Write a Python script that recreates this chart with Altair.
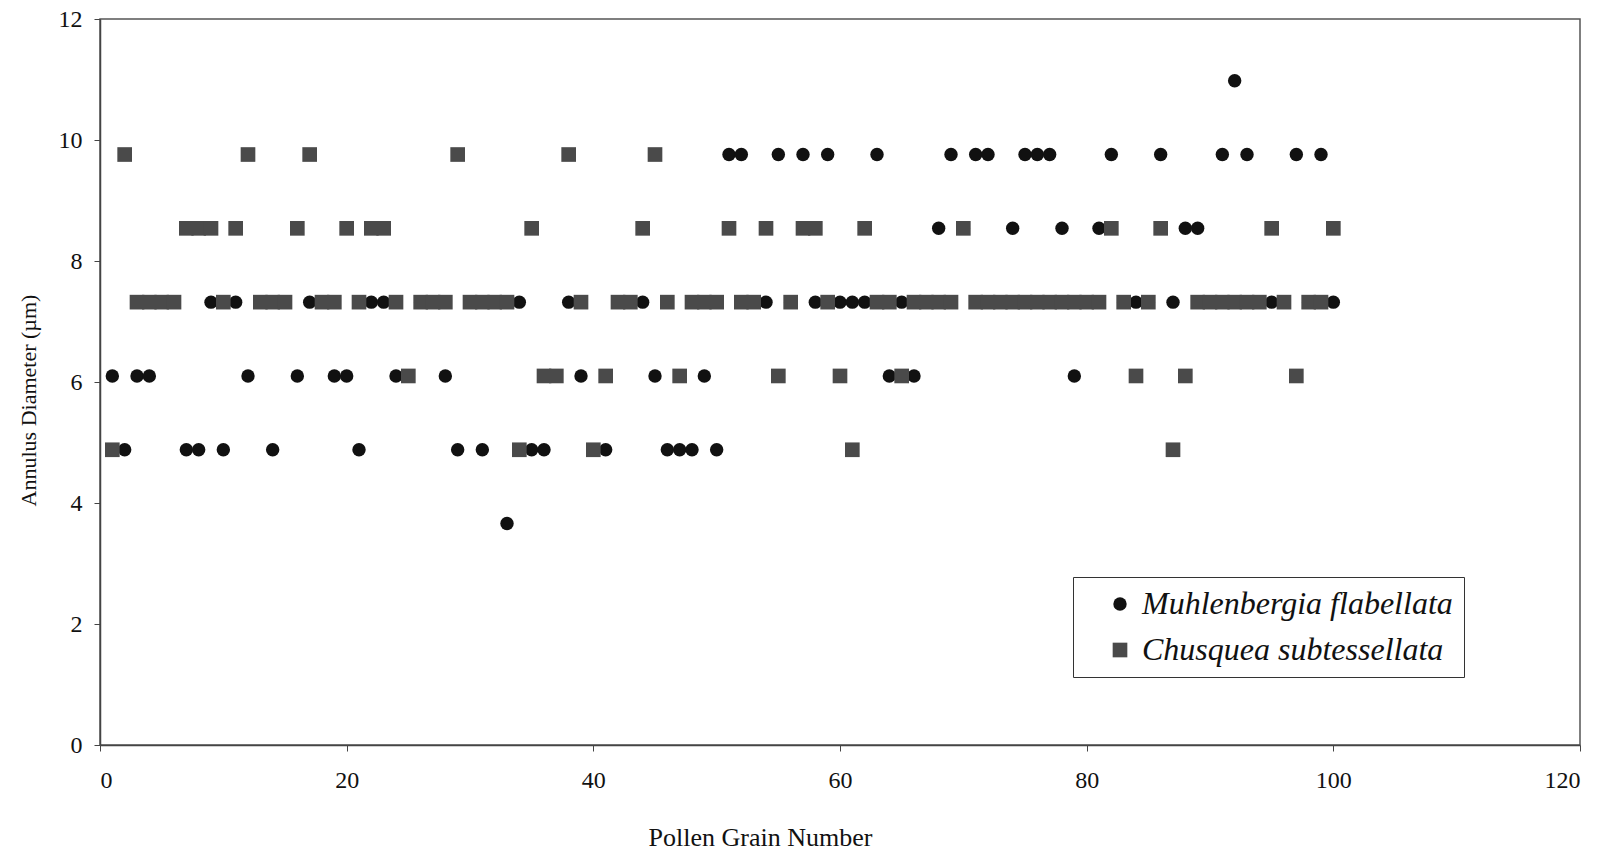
import altair as alt
import pandas as pd

# Pollen grain number (1-100) for each species
grain = list(range(1, 101))

# Annulus diameter (µm) per grain, in micrometer steps of 1.22 µm
muhlenbergia = [
    6.10, 4.88, 6.10, 6.10, 7.32, 7.32, 4.88, 4.88, 7.32, 4.88,
    7.32, 6.10, 7.32, 4.88, 7.32, 6.10, 7.32, 7.32, 6.10, 6.10,
    4.88, 7.32, 7.32, 6.10, 6.10, 7.32, 7.32, 6.10, 4.88, 7.32,
    4.88, 7.32, 3.66, 7.32, 4.88, 4.88, 6.10, 7.32, 6.10, 4.88,
    4.88, 7.32, 7.32, 7.32, 6.10, 4.88, 4.88, 4.88, 6.10, 4.88,
    9.76, 9.76, 7.32, 7.32, 9.76, 7.32, 9.76, 7.32, 9.76, 7.32,
    7.32, 7.32, 9.76, 6.10, 7.32, 6.10, 7.32, 8.54, 9.76, 8.54,
    9.76, 9.76, 7.32, 8.54, 9.76, 9.76, 9.76, 8.54, 6.10, 7.32,
    8.54, 9.76, 7.32, 7.32, 7.32, 9.76, 7.32, 8.54, 8.54, 7.32,
    9.76, 10.98, 9.76, 7.32, 7.32, 7.32, 9.76, 7.32, 9.76, 7.32,
]

chusquea = [
    4.88, 9.76, 7.32, 7.32, 7.32, 7.32, 8.54, 8.54, 8.54, 7.32,
    8.54, 9.76, 7.32, 7.32, 7.32, 8.54, 9.76, 7.32, 7.32, 8.54,
    7.32, 8.54, 8.54, 7.32, 6.10, 7.32, 7.32, 7.32, 9.76, 7.32,
    7.32, 7.32, 7.32, 4.88, 8.54, 6.10, 6.10, 9.76, 7.32, 4.88,
    6.10, 7.32, 7.32, 8.54, 9.76, 7.32, 6.10, 7.32, 7.32, 7.32,
    8.54, 7.32, 7.32, 8.54, 6.10, 7.32, 8.54, 8.54, 7.32, 6.10,
    4.88, 8.54, 7.32, 7.32, 6.10, 7.32, 7.32, 7.32, 7.32, 8.54,
    7.32, 7.32, 7.32, 7.32, 7.32, 7.32, 7.32, 7.32, 7.32, 7.32,
    7.32, 8.54, 7.32, 6.10, 7.32, 8.54, 4.88, 6.10, 7.32, 7.32,
    7.32, 7.32, 7.32, 7.32, 8.54, 7.32, 6.10, 7.32, 7.32, 8.54,
]

species = ["Muhlenbergia flabellata", "Chusquea subtessellata"]
x_ticks = [0, 20, 40, 60, 80, 100, 120]
y_ticks = [0, 2, 4, 6, 8, 10, 12]

df = pd.DataFrame({
    "grain": grain + grain,
    "diameter": muhlenbergia + chusquea,
    "species": [species[0]] * len(grain) + [species[1]] * len(grain),
})

serif = "Liberation Serif"

legend = alt.Legend(
    title=None,
    orient="none",
    legendX=973,
    legendY=558,
    labelFont=serif,
    labelFontStyle="italic",
    labelFontSize=32,
    labelColor="#111111",
    labelOffset=6,
    labelLimit=500,
    strokeColor="#333333",
    fillColor="white",
    padding=11,
    rowPadding=14,
    symbolOffset=20,
    symbolSize=150,
    symbolStrokeWidth=0,
)

chart = (
    alt.Chart(df)
    .mark_point(filled=True, opacity=1, strokeWidth=0)
    .encode(
        x=alt.X(
            "grain:Q",
            scale=alt.Scale(domain=[0, 120], nice=False, zero=True),
            axis=alt.Axis(
                values=x_ticks,
                title="Pollen Grain Number",
                titleX=660,
                titleY=92,
                titleAlign="center",
                titleBaseline="middle",
                titleFontSize=26,
                labelPadding=17,
            ),
        ),
        y=alt.Y(
            "diameter:Q",
            scale=alt.Scale(domain=[0, 12], nice=False),
            axis=alt.Axis(
                values=y_ticks,
                title="Annulus Diameter (µm)",
                titleX=-72,
                titleY=381,
                titleAlign="center",
                titleBaseline="middle",
                titleAngle=270,
                titleFontSize=22,
                labelPadding=12,
            ),
        ),
        color=alt.Color(
            "species:N",
            scale=alt.Scale(domain=species, range=["#111111", "#4a4a4a"]),
            legend=legend,
        ),
        shape=alt.Shape(
            "species:N",
            scale=alt.Scale(domain=species, range=["circle", "square"]),
            legend=legend,
        ),
        size=alt.Size(
            "species:N",
            scale=alt.Scale(domain=species, range=[180, 215]),
            legend=None,
        ),
    )
    .properties(
        width=1480,
        height=726,
        autosize=alt.AutoSizeParams(type="none"),
        padding={"left": 100, "top": 19, "right": 30, "bottom": 107},
        background="white",
    )
    .configure_view(stroke="#555555", strokeWidth=1.5)
    .configure_axis(
        grid=False,
        domainColor="#444444",
        domainWidth=1.5,
        tickColor="#444444",
        tickSize=6,
        labelFont=serif,
        labelFontSize=24,
        labelColor="#111111",
        titleFont=serif,
        titleFontWeight="normal",
        titleColor="#111111",
    )
)

chart.save("out.html", embed_options={"renderer": "svg", "actions": False})
